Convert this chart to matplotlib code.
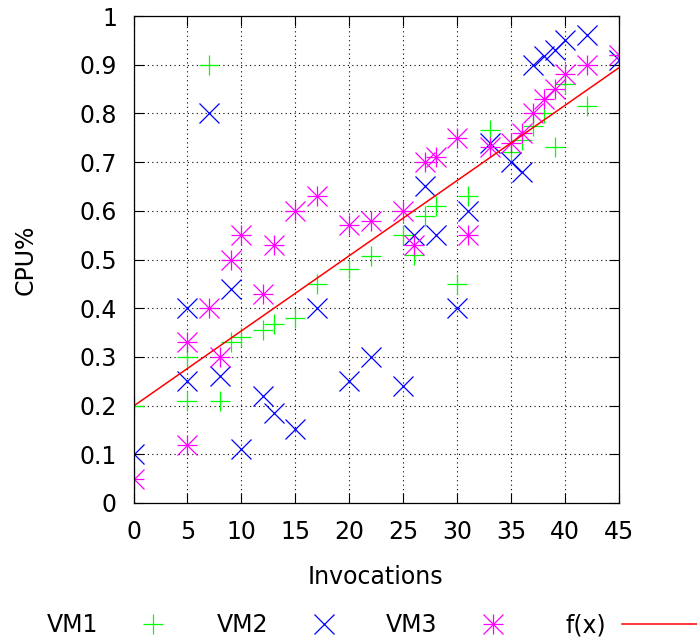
import matplotlib
matplotlib.use("Agg")
import matplotlib.pyplot as plt
from matplotlib.legend_handler import HandlerTuple

# invocation counts (same for every VM)
invocations = [0, 5, 5, 7, 8, 9, 10, 12, 13, 15, 17, 20, 22, 25, 26, 27, 28,
               30, 31, 33, 35, 36, 37, 38, 39, 40, 42, 45]

vm1 = [0.20, 0.30, 0.21, 0.90, 0.21, 0.33, 0.34, 0.355, 0.367, 0.38, 0.45, 0.48,
       0.508, 0.55, 0.51, 0.59, 0.61, 0.45, 0.63, 0.765, 0.72, 0.745, 0.775,
       0.80, 0.73, 0.86, 0.815, 0.92]
vm2 = [0.10, 0.40, 0.25, 0.80, 0.26, 0.44, 0.11, 0.22, 0.184, 0.152, 0.40, 0.25,
       0.30, 0.24, 0.55, 0.65, 0.55, 0.40, 0.60, 0.74, 0.70, 0.68, 0.90, 0.918,
       0.93, 0.95, 0.96, 0.91]
vm3 = [0.05, 0.33, 0.12, 0.40, 0.30, 0.50, 0.55, 0.43, 0.53, 0.60, 0.63, 0.57,
       0.58, 0.60, 0.53, 0.70, 0.71, 0.75, 0.55, 0.73, 0.74, 0.76, 0.80, 0.83,
       0.85, 0.88, 0.90, 0.92]

# fitted line f(x) = a*x + b
fit_a = 0.01545
fit_b = 0.199
fit_x = [0, 45]

legend_labels = ["VM1", "VM2", "VM3", "f(x)"]

FS = 17

fig = plt.figure(figsize=(6.97, 6.42), dpi=100)
ax = fig.add_axes([133.5 / 697, 1 - 503 / 642, 485.8 / 697, 487 / 642])

ms = 14
mew = 0.9
h1, = ax.plot(invocations, vm1, linestyle="none", marker="+", ms=ms, mew=mew,
              color="#00ff00")
h2, = ax.plot(invocations, vm2, linestyle="none", marker="x", ms=ms, mew=mew,
              color="#0000ff")
# gnuplot's star = plus + cross drawn together
h3a, = ax.plot(invocations, vm3, linestyle="none", marker="+", ms=ms, mew=mew,
               color="#ff00ff")
h3b, = ax.plot(invocations, vm3, linestyle="none", marker="x", ms=ms, mew=mew,
               color="#ff00ff")
fy = [fit_a * x + fit_b for x in fit_x]
h4, = ax.plot(fit_x, fy, color="#ff0000", lw=1.1)

ax.set_xlim(0, 45)
ax.set_ylim(0, 1)
ax.set_xticks(range(0, 46, 5))
ax.set_yticks([i / 10 for i in range(11)])
ax.set_yticklabels(["0"] + [f"0.{i}" for i in range(1, 10)] + ["1"])
ax.tick_params(direction="in", length=7, width=0.8, top=True, right=True,
               labelsize=FS, pad=12)
ax.grid(True, color="black", linestyle=(0, (1, 3)), linewidth=0.8)
for s in ax.spines.values():
    s.set_linewidth(0.9)

ax.set_xlabel("Invocations", fontsize=FS)
ax.set_ylabel("CPU%", fontsize=FS)
ax.xaxis.set_label_coords(0.499, -0.127)
ax.yaxis.set_label_coords(-0.197, 0.499)

# gnuplot key: one entry per column, text first then sample
handles = [h1, h2, (h3a, h3b), h4]
text_left = [47, 217, 386, 565]
for h, lab, xl in zip(handles, legend_labels, text_left):
    fig.legend([h], [lab], handler_map={tuple: HandlerTuple(ndivide=1)},
               loc="center left", bbox_to_anchor=(xl / 697, 1 - 625 / 642),
               frameon=False, markerfirst=False, fontsize=FS,
               borderpad=0, borderaxespad=0, handletextpad=0.68,
               handlelength=3.3)

fig.savefig("out.png", dpi=100)
